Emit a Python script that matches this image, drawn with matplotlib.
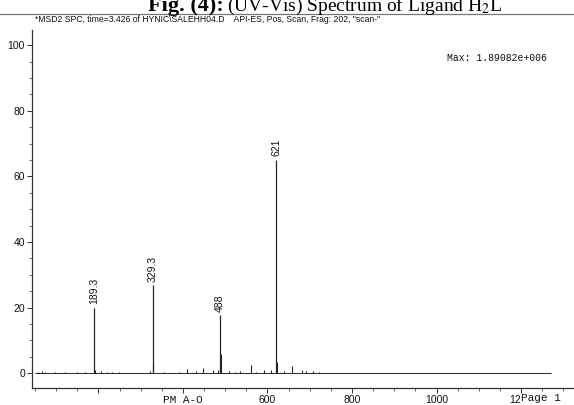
import matplotlib.pyplot as plt
from matplotlib.lines import Line2D
from matplotlib.ticker import MultipleLocator
from matplotlib import transforms

# labelled peaks (m/z, relative abundance %)
peak_mz = [189.3, 329.3, 488, 621]
peak_int = [20.0, 26.8, 17.7, 65.0]
peak_labels = ['189.3', '329.3', '488', '621']

# small peaks
minor_mz = [58, 66, 74, 98, 120, 150, 168, 191, 206, 221, 233, 248, 323, 330.3,
            355, 390, 410, 432, 447, 472, 484, 489, 508, 524, 535, 560, 573, 592,
            608, 622, 639, 658, 681, 692, 707, 723]
minor_int = [0.5, 0.6, 0.4, 0.3, 0.3, 0.3, 0.4, 1.0, 0.6, 0.5, 0.5, 0.4, 0.6, 3.0,
             0.5, 0.4, 1.3, 0.7, 1.6, 1.1, 0.9, 6.0, 0.8, 0.5, 0.7, 2.6, 0.5, 0.9,
             0.9, 3.5, 0.6, 2.3, 0.9, 0.8, 0.6, 0.4]

scan_range = [50, 1270]
x_ticks = [200, 400, 600, 800, 1000, 1200]
x_ticklabels = ['', 'PM A-O', '600', '800', '1000', '12']
y_ticks = [0, 20, 40, 60, 80, 100]

ink = '#262626'

fig = plt.figure(figsize=(5.74, 4.05), dpi=100)
ax = fig.add_axes([32 / 574, 1 - 388 / 405, 542 / 574, 358 / 405])

ax.hlines(0, scan_range[0], scan_range[1], color=ink, lw=0.7)
ax.vlines(minor_mz, 0, minor_int, color=ink, lw=0.8)
ax.vlines(peak_mz, 0, peak_int, color=ink, lw=0.9)
for mz, h, lab in zip(peak_mz, peak_int, peak_labels):
    ax.annotate(lab, (mz, h), xytext=(0, 2.5), textcoords='offset points',
                rotation=90, ha='center', va='bottom', fontsize=7.5,
                family='Liberation Sans', color='#111111')

ax.set_xlim(43, 1325)
ax.set_ylim(-4.5, 104.6)
for s in ['top', 'right']:
    ax.spines[s].set_visible(False)
for s in ['left', 'bottom']:
    ax.spines[s].set_color('#333333')
    ax.spines[s].set_linewidth(0.9)

ax.set_yticks(y_ticks)
ax.yaxis.set_minor_locator(MultipleLocator(5))
ax.set_xticks(x_ticks)
ax.set_xticklabels(x_ticklabels)
ax.xaxis.set_minor_locator(MultipleLocator(50))
ax.tick_params(which='major', length=3.5, width=0.7, color='#333333',
               labelsize=7.5, pad=1.5, labelcolor='#111111')
ax.tick_params(which='minor', length=2, width=0.6, color='#555555')
for t in ax.get_yticklabels() + ax.get_xticklabels():
    t.set_family('Liberation Sans')
ax.get_xticklabels()[1].set_family('Liberation Mono')
ax.get_xticklabels()[1].set_fontsize(8)
ax.get_xticklabels()[5].set_horizontalalignment('right')

# footer text overprinted on the axis
trans = transforms.blended_transform_factory(ax.transData, fig.transFigure)
fig.text(1200, 1 - 398 / 405, 'Page 1', transform=trans, ha='left', va='center',
         family='Liberation Mono', fontsize=8, color='#111111')

ax.text(0.95, 0.922, 'Max: 1.89082e+006', transform=ax.transAxes, ha='right',
        va='center', family='Liberation Mono', fontsize=7, color='#111111')

fig.text(35 / 574, 1 - 20 / 405,
         '*MSD2 SPC, time=3.426 of HYNIC\\SALEHH04.D    API-ES, Pos, Scan, Frag: 202, "scan-"',
         ha='left', va='center', family='Liberation Sans', fontsize=6.2, color='#111111')

# scan rule and the cropped figure caption above it
fig.add_artist(Line2D([0, 1], [1 - 14 / 405, 1 - 14 / 405], transform=fig.transFigure,
                      color='#777777', lw=0.9))
plt.rcParams['mathtext.fontset'] = 'stix'
fig.text(148 / 574, 1 - 11 / 405, 'Fig. (4):', ha='left', va='baseline',
         family='Liberation Serif', fontweight='bold', fontsize=16)
fig.text(227 / 574, 1 - 11 / 405, '(UV-Vis) Spectrum of Ligand H$_2$L', ha='left',
         va='baseline', family='Liberation Serif', fontsize=14)

fig.savefig('out.png', dpi=100)
